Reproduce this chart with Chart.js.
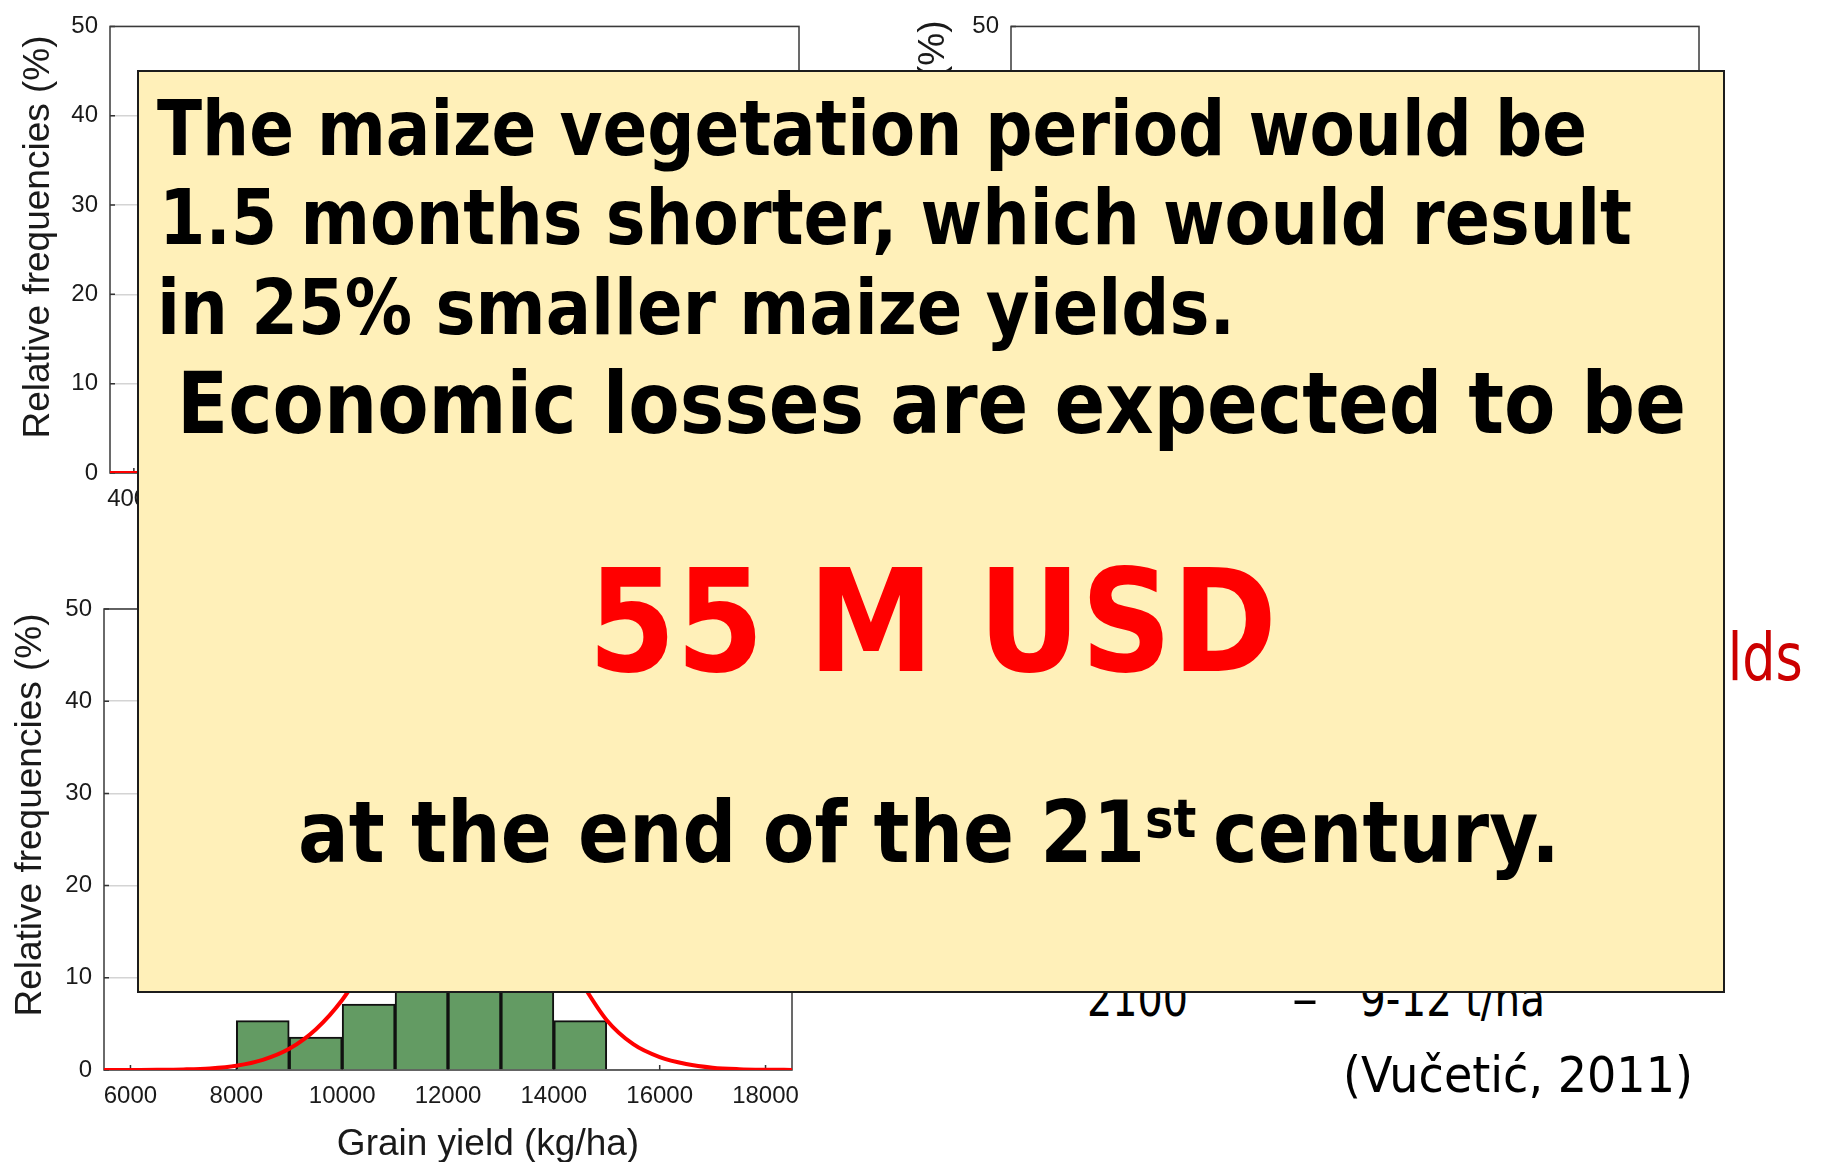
<!DOCTYPE html>
<html>
<head>
<meta charset="utf-8">
<title>Maize yields – relative frequencies</title>
<script src="https://cdn.jsdelivr.net/npm/chart.js@4.4.1/dist/chart.umd.min.js"></script>
<style>
  html, body { margin: 0; padding: 0; background: #fff; }
  body { width: 1822px; height: 1162px; position: relative; overflow: hidden; }
  canvas { position: absolute; z-index: 0; }
  .txt { position: absolute; white-space: nowrap; line-height: 1; transform-origin: 0 0; }
  .bl { display: inline-block; width: 0; height: 0; }
  #box { position: absolute; left: 137px; top: 70px; width: 1588px; height: 923px; box-sizing: border-box;
         background: #fff0b9; border: 2px solid #1c1c1c; z-index: 5; }
  .boxtxt { font-family: "DejaVu Sans", Verdana, sans-serif; font-weight: bold; color: #000; z-index: 6; }
  .slide { font-family: "DejaVu Sans", Tahoma, sans-serif; color: #000; z-index: 1; }
  .sup { font-size: 54px; position: relative; top: -25px; }
</style>
</head>
<body>
<canvas id="topLeftChart" width="820" height="560" style="left:0;top:0"></canvas>
<canvas id="topRightChart" width="900" height="560" style="left:860px;top:0"></canvas>
<canvas id="yieldChart" width="820" height="582" style="left:0;top:580px"></canvas>

<div class="txt slide" id="yields" style="font-size:66px;color:#cc0000"><span class="bl"></span>yie<span id="lds">lds</span></div>
<div class="txt slide" id="y2100" style="font-size:50px"><span class="bl"></span>2100</div>
<div class="txt slide" id="dash" style="font-size:50px"><span class="bl"></span>–</div>
<div class="txt slide" id="range" style="font-size:50px"><span class="bl"></span>9-12 t/ha</div>
<div class="txt slide" id="cite" style="font-size:50px"><span class="bl"></span>(Vučetić, 2011)</div>

<div id="box"></div>
<div class="txt boxtxt" id="l1" style="font-size:76px"><span class="bl"></span>The maize vegetation period would be</div>
<div class="txt boxtxt" id="l2" style="font-size:76px"><span class="bl"></span>1.5 months shorter, which would result</div>
<div class="txt boxtxt" id="l3" style="font-size:76px"><span class="bl"></span>in 25% smaller maize yields.</div>
<div class="txt boxtxt" id="l4" style="font-size:85px"><span class="bl"></span>Economic losses are expected to be</div>
<div class="txt boxtxt" id="l5" style="font-size:143px;color:#ff0000"><span class="bl"></span>55 M USD</div>
<div class="txt boxtxt" id="l6" style="font-size:85px"><span class="bl"></span>at the end of the 21<span class="sup">st </span>century.</div>

<script>
// histogram of grain yield (bins 1000 kg/ha wide)
const binCenters = [8500, 9500, 10500, 11500, 12500, 13500, 14500];
const binFreq = [5.36, 3.57, 7.14, 23.2, 28.6, 26.8, 5.36];

// fitted normal curve
const curveX = [5500, 6000, 6500, 7000, 7500, 8000, 8500, 9000, 9500, 10000, 10500, 11000, 11500, 12000,
  12500, 13000, 13500, 14000, 14500, 15000, 15500, 16000, 16500, 17000, 17500, 18000, 18500];
const curveY = [0.0, 0.01, 0.02, 0.06, 0.17, 0.46, 1.1, 2.3, 4.4, 7.6, 12.0, 17.0, 21.8, 25.0,
  25.7, 23.9, 19.8, 14.6, 9.7, 5.4, 2.8, 1.4, 0.65, 0.25, 0.09, 0.03, 0.01];

// the upper chart, mostly hidden by the text box
const topCurveX = [3550, 4000, 4500, 5000, 5500];
const topCurveY = [0.02, 0.03, 0.05, 0.1, 0.2];

const yTicks = [0, 10, 20, 30, 40, 50];
const yieldTicks = [6000, 8000, 10000, 12000, 14000, 16000, 18000];
const topTicks = [4000, 6000, 8000, 10000, 12000, 14000, 16000];

const yTitle = "Relative frequencies (%)";
const xTitle = "Grain yield (kg/ha)";

const hasFont = (name) => {
  const c = document.createElement("canvas").getContext("2d");
  const s = "abcdefghij0123456789";
  c.font = "40px monospace";
  const a = c.measureText(s).width;
  c.font = '40px "' + name + '", monospace';
  return c.measureText(s).width !== a;
};
const narrow = hasFont("Liberation Sans Narrow");
const tickFont = narrow ? { family: '"Liberation Sans Narrow"', size: 26 } : { family: '"Liberation Sans"', size: 24 };

Chart.defaults.font.family = '"Liberation Sans", Arial, sans-serif';
Chart.defaults.color = "#1a1a1a";

// frame round the plot and the short inside tick marks
const frameTicks = {
  id: "frameTicks",
  beforeDatasetsDraw(chart) {
    const { ctx, chartArea: a, scales } = chart;
    ctx.save();
    ctx.strokeStyle = "#333";
    ctx.lineWidth = 1.5;
    ctx.beginPath();
    scales.x.ticks.forEach((t, i) => {
      const px = scales.x.getPixelForTick(i);
      ctx.moveTo(px, a.bottom);
      ctx.lineTo(px, a.bottom - 5);
    });
    scales.y.ticks.forEach((t, i) => {
      const py = scales.y.getPixelForTick(i);
      ctx.moveTo(a.left, py);
      ctx.lineTo(a.left + 5, py);
    });
    ctx.stroke();
    ctx.strokeStyle = "#3a3a3a";
    ctx.strokeRect(a.left, a.top, a.right - a.left, a.bottom - a.top);
    ctx.restore();
  }
};

const axisTitles = (items) => ({
  id: "axisTitles",
  afterDraw(chart) {
    const ctx = chart.ctx;
    items.forEach((it) => {
      ctx.save();
      ctx.font = '37px "Liberation Sans", Arial, sans-serif';
      ctx.fillStyle = "#1a1a1a";
      ctx.textAlign = "center";
      ctx.textBaseline = "alphabetic";
      ctx.translate(it.x, it.y);
      if (it.vertical) ctx.rotate(-Math.PI / 2);
      ctx.fillText(it.text, 0, 0);
      ctx.restore();
    });
  }
});

const makeScales = (xMin, xMax, xTickList, yWidth, xHeight) => ({
  x: {
    type: "linear", min: xMin, max: xMax, offset: false,
    grid: { display: false, drawTicks: false, offset: false },
    border: { display: false },
    afterBuildTicks: (s) => { s.ticks = xTickList.map((v) => ({ value: v })); },
    afterFit: (s) => { s.height = xHeight; },
    ticks: { font: tickFont, padding: 12, maxRotation: 0, autoSkip: false, callback: (v) => String(v) }
  },
  y: {
    min: 0, max: 50,
    grid: { color: "#d4d4d4", lineWidth: 1.5, drawTicks: false },
    border: { display: false },
    afterBuildTicks: (s) => { s.ticks = yTicks.map((v) => ({ value: v })); },
    afterFit: (s) => { s.width = yWidth; },
    ticks: { font: tickFont, padding: 12 }
  }
});

const baseOptions = (padding, scales) => ({
  responsive: false,
  animation: false,
  layout: { padding: padding },
  plugins: { legend: { display: false }, tooltip: { enabled: false } },
  scales: scales
});

const topLeftChart = new Chart(document.getElementById("topLeftChart"), {
  type: "line",
  data: {
    datasets: [{
      data: topCurveX.map((x, i) => ({ x: x, y: topCurveY[i] })),
      borderColor: "#ff0000", borderWidth: 3.5, pointRadius: 0, tension: 0.4
    }]
  },
  options: baseOptions({ top: 15, right: 21, left: 0, bottom: 0 }, makeScales(3550, 16550, topTicks, 110, 87)),
  plugins: [frameTicks, axisTitles([{ text: yTitle, x: 49, y: 237, vertical: true }])]
});

const topRightChart = new Chart(document.getElementById("topRightChart"), {
  type: "line",
  data: { datasets: [] },
  options: baseOptions({ top: 26, right: 61, left: 0, bottom: 0 }, makeScales(3550, 16550, topTicks, 151, 76)),
  plugins: [frameTicks, axisTitles([{ text: yTitle, x: 84, y: 222, vertical: true }])]
});

const yieldChart = new Chart(document.getElementById("yieldChart"), {
  type: "bar",
  data: {
    datasets: [{
      type: "line",
      label: "Normal fit",
      data: curveX.map((x, i) => ({ x: x, y: curveY[i] })),
      borderColor: "#ff0000", borderWidth: 4, pointRadius: 0,
      tension: 0.4, cubicInterpolationMode: "monotone", fill: false, order: 0
    }, {
      type: "bar",
      label: "Frequency",
      data: binCenters.map((x, i) => ({ x: x, y: binFreq[i] })),
      backgroundColor: "#639b63", borderColor: "#111", borderWidth: 2,
      barPercentage: 1, categoryPercentage: 1, grouped: false, order: 1
    }]
  },
  options: baseOptions({ top: 29, right: 28, left: 0, bottom: 0 }, makeScales(5500, 18500, yieldTicks, 104, 92)),
  plugins: [frameTicks, axisTitles([
    { text: yTitle, x: 41, y: 235, vertical: true },
    { text: xTitle, x: 488, y: 575, vertical: false }
  ])]
});

// slide text: put each line on its baseline and squeeze it to the measured width
const place = (id, left, baseline, width) => {
  const el = document.getElementById(id);
  el.style.transform = "none";
  el.style.left = left + "px";
  el.style.top = "0px";
  const w = el.getBoundingClientRect().width;
  const probe = el.querySelector(".bl").getBoundingClientRect().top;
  el.style.top = (baseline - probe) + "px";
  el.style.transform = "scaleX(" + (width / w).toFixed(4) + ")";
};

const placeYields = () => {
  const el = document.getElementById("yields");
  el.style.left = "0px";
  el.style.top = "0px";
  const r = el.getBoundingClientRect();
  const part = document.getElementById("lds").getBoundingClientRect();
  const s = 75 / part.width;
  const probe = el.querySelector(".bl").getBoundingClientRect().top;
  el.style.left = (1728 - (part.left - r.left) * s) + "px";
  el.style.top = (680 - probe) + "px";
  el.style.transform = "scaleX(" + s.toFixed(4) + ")";
};

const layoutText = () => {
  place("l1", 157, 155, 1430);
  place("l2", 159, 244, 1473);
  place("l3", 157, 334, 1078);
  place("l4", 177, 433, 1509);
  place("l5", 588, 671, 689);
  place("l6", 298, 862, 1262);
  place("y2100", 1087, 1016, 101);
  place("dash", 1292, 1016, 26);
  place("range", 1360, 1016, 185);
  place("cite", 1343, 1092, 350);
  placeYields();
};

layoutText();
</script>
</body>
</html>
